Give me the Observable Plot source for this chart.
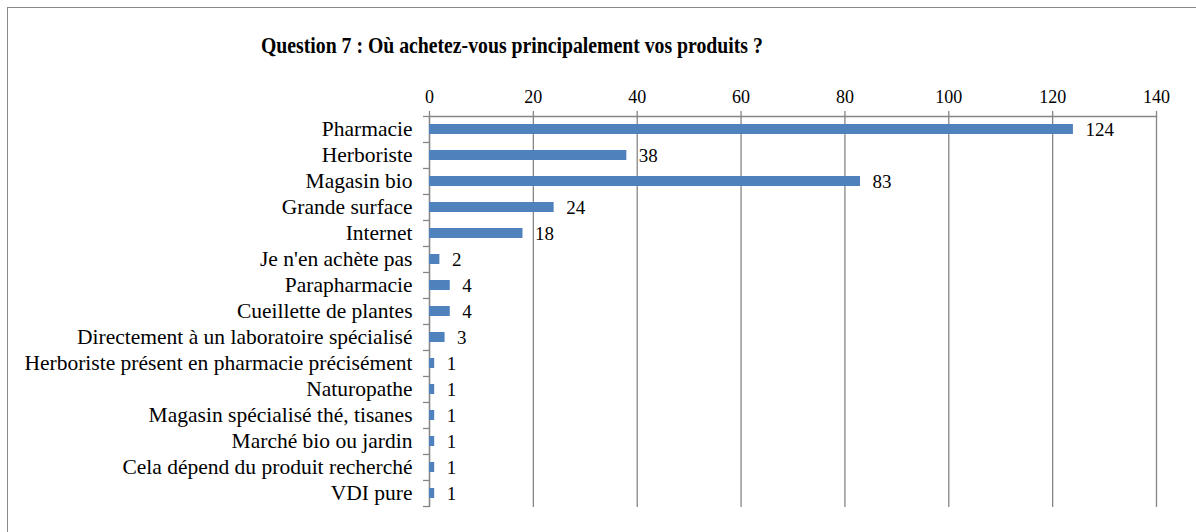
<!DOCTYPE html>
<html>
<head>
<meta charset="utf-8">
<script src="https://cdn.jsdelivr.net/npm/d3@7"></script>
<script src="https://cdn.jsdelivr.net/npm/@observablehq/plot@0.6"></script>
<style>
  html, body { margin: 0; padding: 0; background: #fff; }
  #wrap { position: relative; width: 1196px; height: 532px; overflow: hidden; font-family: "Liberation Serif", "Times New Roman", serif; }
  #border { position: absolute; left: 7px; top: 7px; width: 1220px; height: 560px; border: 1.5px solid #8a8a8a; box-sizing: border-box; }
  #title { position: absolute; left: 261px; top: 34px; line-height: 24px; font-family: "Liberation Serif", "Times New Roman", serif; font-weight: bold; font-size: 23px; color: #000; white-space: nowrap; transform: scaleX(0.858); transform-origin: 0 0; }
  #chart { position: absolute; left: 0; top: 0; }
  #chart svg, #chart svg text { font-family: "Liberation Serif", "Times New Roman", serif !important; }
</style>
</head>
<body>
<div id="wrap">
  <div id="border"></div>
  <div id="title">Question 7 : Où achetez-vous principalement vos produits ?</div>
  <div id="chart"></div>
</div>
<script>
const categories = [
  "Pharmacie",
  "Herboriste",
  "Magasin bio",
  "Grande surface",
  "Internet",
  "Je n'en achète pas",
  "Parapharmacie",
  "Cueillette de plantes",
  "Directement à un laboratoire spécialisé",
  "Herboriste présent en pharmacie précisément",
  "Naturopathe",
  "Magasin spécialisé thé, tisanes",
  "Marché bio ou jardin",
  "Cela dépend du produit recherché",
  "VDI pure"
];
const values = [124, 38, 83, 24, 18, 2, 4, 4, 3, 1, 1, 1, 1, 1, 1];
const xTicks = [0, 20, 40, 60, 80, 100, 120, 140];

const data = categories.map((c, i) => ({cat: c, value: values[i]}));

const W = 1196, H = 532, mt = 116, mb = 25, ml = 429, mr = 40;
const step = (H - mt - mb) / categories.length;
const grey = "#868686";
const serif = "Liberation Serif";

const chart = Plot.plot({
  width: W,
  height: H,
  marginLeft: ml,
  marginRight: mr,
  marginTop: mt,
  marginBottom: mb,
  style: {fontFamily: "'Liberation Serif', serif", fontSize: "19px", color: "#000", background: "transparent", overflow: "visible"},
  x: {domain: [0, 140], axis: null, label: null},
  y: {domain: categories, paddingInner: 0.6, paddingOuter: 0.3, axis: null, label: null},
  marks: [
    Plot.gridX(xTicks, {stroke: grey, strokeOpacity: 1, strokeWidth: 1.3}),
    Plot.frame({anchor: "top", stroke: grey, strokeWidth: 1.3}),
    Plot.ruleX([0], {stroke: grey, strokeWidth: 1.3}),
    Plot.axisX({anchor: "top", label: null, ticks: xTicks, tickSize: 6, tickPadding: 8, stroke: grey, strokeWidth: 1.3, strokeOpacity: 1, fontSize: 18, fontFamily: serif, fill: "#000"}),
    Plot.axisY({anchor: "left", label: null, tickSize: 6, tickFormat: () => "", dy: -step / 2, stroke: grey, strokeWidth: 1.3, strokeOpacity: 1}),
    Plot.axisY({anchor: "left", label: null, ticks: [categories[categories.length - 1]], tickSize: 6, tickFormat: () => "", dy: step / 2, stroke: grey, strokeWidth: 1.3, strokeOpacity: 1}),
    Plot.axisY({anchor: "left", label: null, tickSize: 0, tickPadding: 17, fontSize: 21.5, fontFamily: serif, fill: "#000"}),
    Plot.barX(data, {x: "value", y: "cat", fill: "#4F81BD"}),
    Plot.text(data, {x: "value", y: "cat", text: d => String(d.value), textAnchor: "start", dx: 12, fontSize: 19, fontFamily: serif, fill: "#000"})
  ]
});
document.getElementById("chart").appendChild(chart);
</script>
</body>
</html>
